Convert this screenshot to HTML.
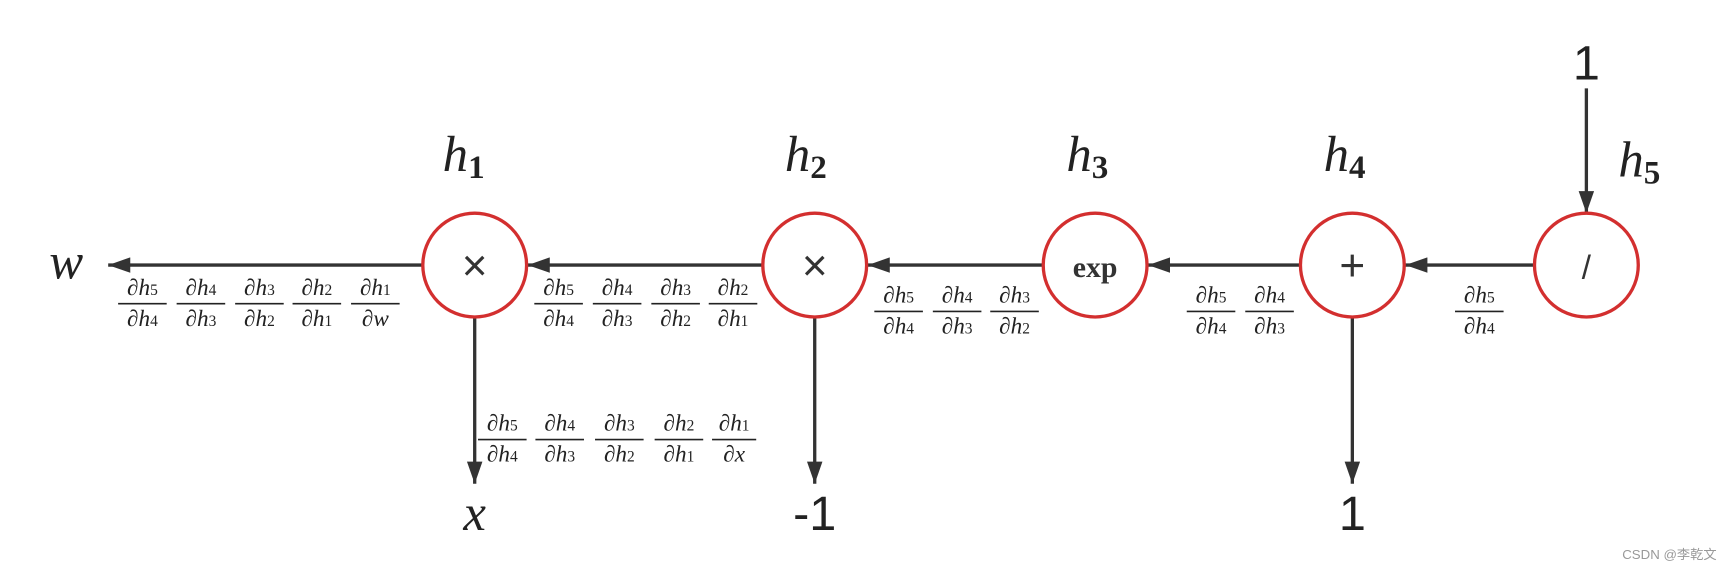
<!DOCTYPE html>
<html><head><meta charset="utf-8"><style>
html,body{margin:0;padding:0;background:#fff;}
svg{display:block}
.f{font-family:"Liberation Serif",serif;font-style:italic;font-size:21px;fill:#222;text-anchor:middle}
.s{font-size:14px;font-style:normal}
.big{font-family:"Liberation Serif",serif;font-style:italic;font-size:46px;fill:#222;text-anchor:middle}
.num{font-family:"Liberation Sans",sans-serif;font-size:44px;fill:#222;text-anchor:middle}
</style></head><body>
<svg width="1731" height="571" viewBox="0 0 1568 517" preserveAspectRatio="none" xmlns="http://www.w3.org/2000/svg">
<defs>
<marker id="ah" viewBox="0 0 20 14" markerWidth="20" markerHeight="14" refX="20" refY="7" orient="auto" markerUnits="userSpaceOnUse"><path d="M0,0 L20,7 L0,14 z" fill="#333"/></marker></defs>
<g stroke="#333" stroke-width="3" fill="none">
<line x1="383" y1="240" x2="98" y2="240" marker-end="url(#ah)"/>
<line x1="691" y1="240" x2="478" y2="240" marker-end="url(#ah)"/>
<line x1="945" y1="240" x2="786" y2="240" marker-end="url(#ah)"/>
<line x1="1178" y1="240" x2="1040" y2="240" marker-end="url(#ah)"/>
<line x1="1390" y1="240" x2="1273" y2="240" marker-end="url(#ah)"/>
<line x1="430" y1="288" x2="430" y2="438" marker-end="url(#ah)"/>
<line x1="738" y1="288" x2="738" y2="438" marker-end="url(#ah)"/>
<line x1="1225" y1="288" x2="1225" y2="438" marker-end="url(#ah)"/>
<line x1="1437" y1="80" x2="1437" y2="193" marker-end="url(#ah)"/>
</g>
<g stroke="#d32f2f" stroke-width="3" fill="#fff">
<circle cx="430" cy="240" r="47"/><circle cx="738" cy="240" r="47"/><circle cx="992" cy="240" r="47"/><circle cx="1225" cy="240" r="47"/><circle cx="1437" cy="240" r="47"/>
</g>
<g font-family="Liberation Sans,sans-serif" fill="#333" text-anchor="middle">
<text x="430" y="254" font-size="40" font-weight="300">×</text>
<text x="738" y="254" font-size="40" font-weight="300">×</text>
<text x="992" y="251" font-family="Liberation Serif,serif" font-weight="bold" font-size="27">exp</text>
<text x="1225" y="254" font-size="40">+</text>
<text x="1437" y="252" font-size="30">/</text>
</g>
<text class="big" x="420" y="155">h<tspan font-size="30" font-style="normal" font-weight="bold" dy="6">1</tspan></text>
<text class="big" x="730" y="155">h<tspan font-size="30" font-style="normal" font-weight="bold" dy="6">2</tspan></text>
<text class="big" x="985" y="155">h<tspan font-size="30" font-style="normal" font-weight="bold" dy="6">3</tspan></text>
<text class="big" x="1218" y="155">h<tspan font-size="30" font-style="normal" font-weight="bold" dy="6">4</tspan></text>
<text class="big" x="1485" y="160">h<tspan font-size="30" font-style="normal" font-weight="bold" dy="6">5</tspan></text>
<text class="num" x="1437" y="72">1</text>
<text class="big" x="60" y="252">w</text>
<text class="big" x="430" y="480">x</text>
<text class="num" x="738" y="480">-1</text>
<text class="num" x="1225" y="480">1</text>
<g>
<g transform="translate(129,275)"><text class="f" y="-8">∂h<tspan class="s">5</tspan></text><line x1="-22" x2="22" stroke="#222" stroke-width="1.5"/><text class="f" y="20">∂h<tspan class="s">4</tspan></text></g>
<g transform="translate(182,275)"><text class="f" y="-8">∂h<tspan class="s">4</tspan></text><line x1="-22" x2="22" stroke="#222" stroke-width="1.5"/><text class="f" y="20">∂h<tspan class="s">3</tspan></text></g>
<g transform="translate(235,275)"><text class="f" y="-8">∂h<tspan class="s">3</tspan></text><line x1="-22" x2="22" stroke="#222" stroke-width="1.5"/><text class="f" y="20">∂h<tspan class="s">2</tspan></text></g>
<g transform="translate(287,275)"><text class="f" y="-8">∂h<tspan class="s">2</tspan></text><line x1="-22" x2="22" stroke="#222" stroke-width="1.5"/><text class="f" y="20">∂h<tspan class="s">1</tspan></text></g>
<g transform="translate(340,275)"><text class="f" y="-8">∂h<tspan class="s">1</tspan></text><line x1="-22" x2="22" stroke="#222" stroke-width="1.5"/><text class="f" y="20">∂w</text></g>
<g transform="translate(506,275)"><text class="f" y="-8">∂h<tspan class="s">5</tspan></text><line x1="-22" x2="22" stroke="#222" stroke-width="1.5"/><text class="f" y="20">∂h<tspan class="s">4</tspan></text></g>
<g transform="translate(559,275)"><text class="f" y="-8">∂h<tspan class="s">4</tspan></text><line x1="-22" x2="22" stroke="#222" stroke-width="1.5"/><text class="f" y="20">∂h<tspan class="s">3</tspan></text></g>
<g transform="translate(612,275)"><text class="f" y="-8">∂h<tspan class="s">3</tspan></text><line x1="-22" x2="22" stroke="#222" stroke-width="1.5"/><text class="f" y="20">∂h<tspan class="s">2</tspan></text></g>
<g transform="translate(664,275)"><text class="f" y="-8">∂h<tspan class="s">2</tspan></text><line x1="-22" x2="22" stroke="#222" stroke-width="1.5"/><text class="f" y="20">∂h<tspan class="s">1</tspan></text></g>
<g transform="translate(814,282)"><text class="f" y="-8">∂h<tspan class="s">5</tspan></text><line x1="-22" x2="22" stroke="#222" stroke-width="1.5"/><text class="f" y="20">∂h<tspan class="s">4</tspan></text></g>
<g transform="translate(867,282)"><text class="f" y="-8">∂h<tspan class="s">4</tspan></text><line x1="-22" x2="22" stroke="#222" stroke-width="1.5"/><text class="f" y="20">∂h<tspan class="s">3</tspan></text></g>
<g transform="translate(919,282)"><text class="f" y="-8">∂h<tspan class="s">3</tspan></text><line x1="-22" x2="22" stroke="#222" stroke-width="1.5"/><text class="f" y="20">∂h<tspan class="s">2</tspan></text></g>
<g transform="translate(1097,282)"><text class="f" y="-8">∂h<tspan class="s">5</tspan></text><line x1="-22" x2="22" stroke="#222" stroke-width="1.5"/><text class="f" y="20">∂h<tspan class="s">4</tspan></text></g>
<g transform="translate(1150,282)"><text class="f" y="-8">∂h<tspan class="s">4</tspan></text><line x1="-22" x2="22" stroke="#222" stroke-width="1.5"/><text class="f" y="20">∂h<tspan class="s">3</tspan></text></g>
<g transform="translate(1340,282)"><text class="f" y="-8">∂h<tspan class="s">5</tspan></text><line x1="-22" x2="22" stroke="#222" stroke-width="1.5"/><text class="f" y="20">∂h<tspan class="s">4</tspan></text></g>
<g transform="translate(455,398)"><text class="f" y="-8">∂h<tspan class="s">5</tspan></text><line x1="-22" x2="22" stroke="#222" stroke-width="1.5"/><text class="f" y="20">∂h<tspan class="s">4</tspan></text></g>
<g transform="translate(507,398)"><text class="f" y="-8">∂h<tspan class="s">4</tspan></text><line x1="-22" x2="22" stroke="#222" stroke-width="1.5"/><text class="f" y="20">∂h<tspan class="s">3</tspan></text></g>
<g transform="translate(561,398)"><text class="f" y="-8">∂h<tspan class="s">3</tspan></text><line x1="-22" x2="22" stroke="#222" stroke-width="1.5"/><text class="f" y="20">∂h<tspan class="s">2</tspan></text></g>
<g transform="translate(615,398)"><text class="f" y="-8">∂h<tspan class="s">2</tspan></text><line x1="-22" x2="22" stroke="#222" stroke-width="1.5"/><text class="f" y="20">∂h<tspan class="s">1</tspan></text></g>
<g transform="translate(665,398)"><text class="f" y="-8">∂h<tspan class="s">1</tspan></text><line x1="-20" x2="20" stroke="#222" stroke-width="1.5"/><text class="f" y="20">∂x</text></g>
</g>
<text x="1555" y="506" font-family="Liberation Sans,'Noto Sans CJK SC',sans-serif" font-size="12" fill="#999" text-anchor="end">CSDN @李乾文</text>
</svg>
</body></html>
